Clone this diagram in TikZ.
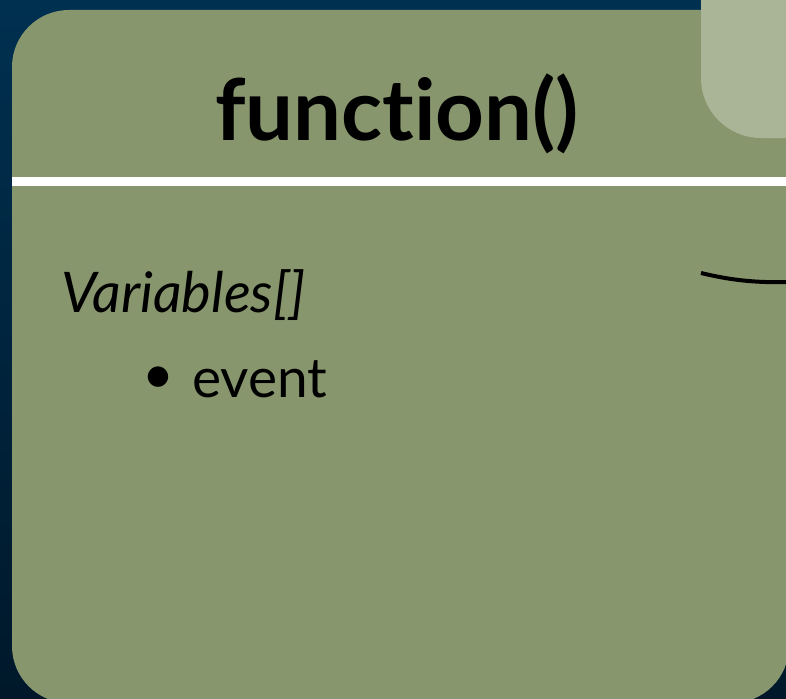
\documentclass[tikz,border=0pt]{standalone}
\usepackage{fontspec}
\setmainfont{Lato}[Ligatures=NoCommon]
\definecolor{navytop}{RGB}{0,48,80}
\definecolor{navybot}{RGB}{0,24,42}
\definecolor{boxgreen}{RGB}{136,150,110}
\definecolor{tabgreen}{RGB}{169,181,150}
\tikzset{
  titletext/.style={anchor=base, inner sep=0pt, font=\bfseries\fontsize{85}{100}\selectfont},
  headtext/.style={anchor=base west, inner sep=0pt, font=\itshape\fontsize{56}{66}\selectfont},
  itemtext/.style={anchor=base west, inner sep=0pt, font=\fontsize{55}{66}\selectfont},
  rulebar/.style={fill=white},
}
\begin{document}
\begin{tikzpicture}[x=1pt,y=-1pt]
\useasboundingbox (0,0) rectangle (786,698);
\clip (0,0) rectangle (786,698);
% backdrop
\fill[top color=navytop, bottom color=navybot] (0,0) rectangle (786,698);
% class box
\fill[boxgreen, rounded corners=57pt] (12,10) rectangle (789,703);
% neighbouring tab
\fill[tabgreen, rounded corners=60pt] (701,-80) rectangle (880,138);
% separator under the title
\fill[rulebar] (12,177) rectangle (786,186);
% edge of a link coming in from the right
\coordinate (linkA) at (701,273);
\coordinate (linkB) at (790,282);
\draw[line width=4pt] (linkA) .. controls (730,280) and (755,283) .. (linkB);
% texts
\node[titletext] (title) at (397,140) {function()};
\node[headtext] (vars) at (61,312) {Variables[]};
\node[itemtext, anchor=center] (bul) at (158,380) {\textbullet};
\node[itemtext] (event) at (192,397) {event};
\end{tikzpicture}
\end{document}
